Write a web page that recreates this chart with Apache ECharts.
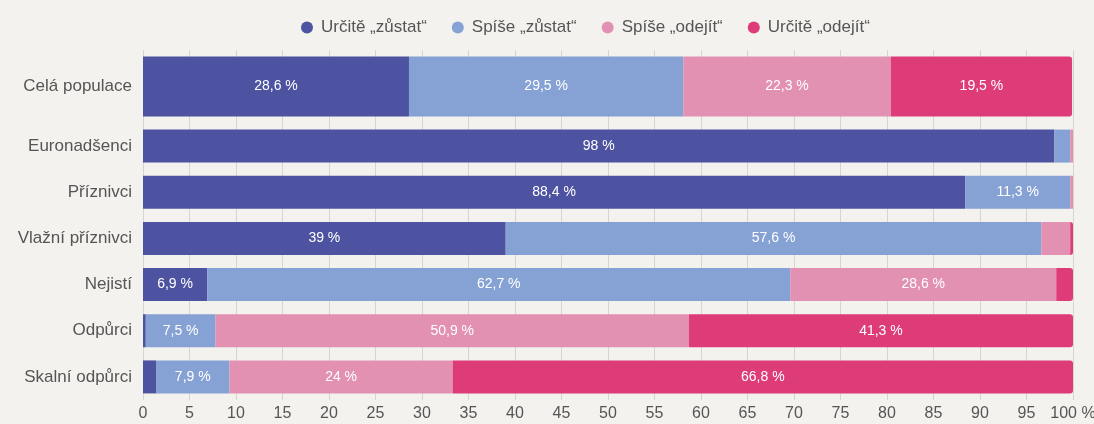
<!DOCTYPE html>
<html>
<head>
<meta charset="utf-8">
<script src="https://cdn.jsdelivr.net/npm/echarts@6/dist/echarts.min.js"></script>
<style>
  html, body { margin: 0; padding: 0; background: #f3f2ee; }
  #chart { width: 1094px; height: 424px; }
</style>
</head>
<body>
<div id="chart"></div>
<script>
// whole population gets its own (taller) bar, the groups share the second grid
const totalCategory = ['Celá populace'];
const groupCategories = ['Euronadšenci', 'Příznivci', 'Vlažní příznivci', 'Nejistí', 'Odpůrci', 'Skalní odpůrci'];

const seriesNames = ['Určitě „zůstat“', 'Spíše „zůstat“', 'Spíše „odejít“', 'Určitě „odejít“'];
const colors = ['#4d53a0', '#86a1d4', '#e291b2', '#dd3c78'];

const totalValues = [[28.6], [29.5], [22.3], [19.5]];

const surelyStay = [98, 88.4, 39, 6.9, 0.3, 1.4];
const ratherStay = [1.7, 11.3, 57.6, 62.7, 7.5, 7.9];
const ratherLeave = [0.3, 0.3, 3.1, 28.6, 50.9, 24];
const surelyLeave = [0, 0, 0.3, 1.8, 41.3, 66.8];
const groupValues = [surelyStay, ratherStay, ratherLeave, surelyLeave];

const xTicks = { min: 0, max: 100, interval: 5 };

const font = 'Liberation Sans, Arial, sans-serif';

const chart = echarts.init(document.getElementById('chart'));

const label = {
  show: true,
  position: 'inside',
  color: '#fff',
  fontSize: 14,
  fontFamily: font,
  formatter: (p) => (p.value >= 5 ? String(p.value).replace('.', ',') + ' %' : '')
};

const makeSeries = (values, axisIndex, barWidth) =>
  seriesNames.map((name, i) => ({
    name: name,
    type: 'bar',
    stack: 'total' + axisIndex,
    xAxisIndex: axisIndex,
    yAxisIndex: axisIndex,
    barWidth: barWidth,
    data: values[i],
    itemStyle: {
      color: colors[i],
      borderRadius: i === 3 ? [0, 3, 3, 0] : 0
    },
    label: label,
    emphasis: { disabled: true }
  }));

const xAxisBase = {
  type: 'value',
  min: xTicks.min,
  max: xTicks.max,
  interval: xTicks.interval,
  axisLine: { show: false },
  axisTick: { show: false },
  splitLine: { lineStyle: { color: '#d6d5d1', width: 1 } }
};

const yAxisBase = {
  type: 'category',
  inverse: true,
  axisLine: { show: false },
  axisTick: { show: false },
  axisLabel: { color: '#555', fontSize: 17, fontFamily: font, margin: 11 }
};

const option = {
  backgroundColor: '#f3f2ee',
  animation: false,
  legend: {
    data: seriesNames,
    left: 296,
    top: 14,
    icon: 'circle',
    itemWidth: 12,
    itemHeight: 12,
    itemGap: 25,
    textStyle: { color: '#555', fontSize: 17, fontFamily: font, padding: [0, 0, 0, 3] }
  },
  grid: [
    { left: 143, right: 21, top: 50, height: 73, outerBoundsMode: 'none' },
    { left: 143, right: 21, top: 123, bottom: 24, outerBoundsMode: 'none' }
  ],
  xAxis: [
    Object.assign({}, xAxisBase, { gridIndex: 0, axisLabel: { show: false } }),
    Object.assign({}, xAxisBase, {
      gridIndex: 1,
      axisLabel: {
        color: '#555',
        fontSize: 16,
        fontFamily: font,
        margin: 6,
        formatter: (v) => (v === 100 ? '100 %' : String(v))
      }
    })
  ],
  yAxis: [
    Object.assign({}, yAxisBase, { gridIndex: 0, data: totalCategory }),
    Object.assign({}, yAxisBase, { gridIndex: 1, data: groupCategories })
  ],
  series: makeSeries(totalValues, 0, 60).concat(makeSeries(groupValues, 1, 33))
};

chart.setOption(option);
</script>
</body>
</html>
